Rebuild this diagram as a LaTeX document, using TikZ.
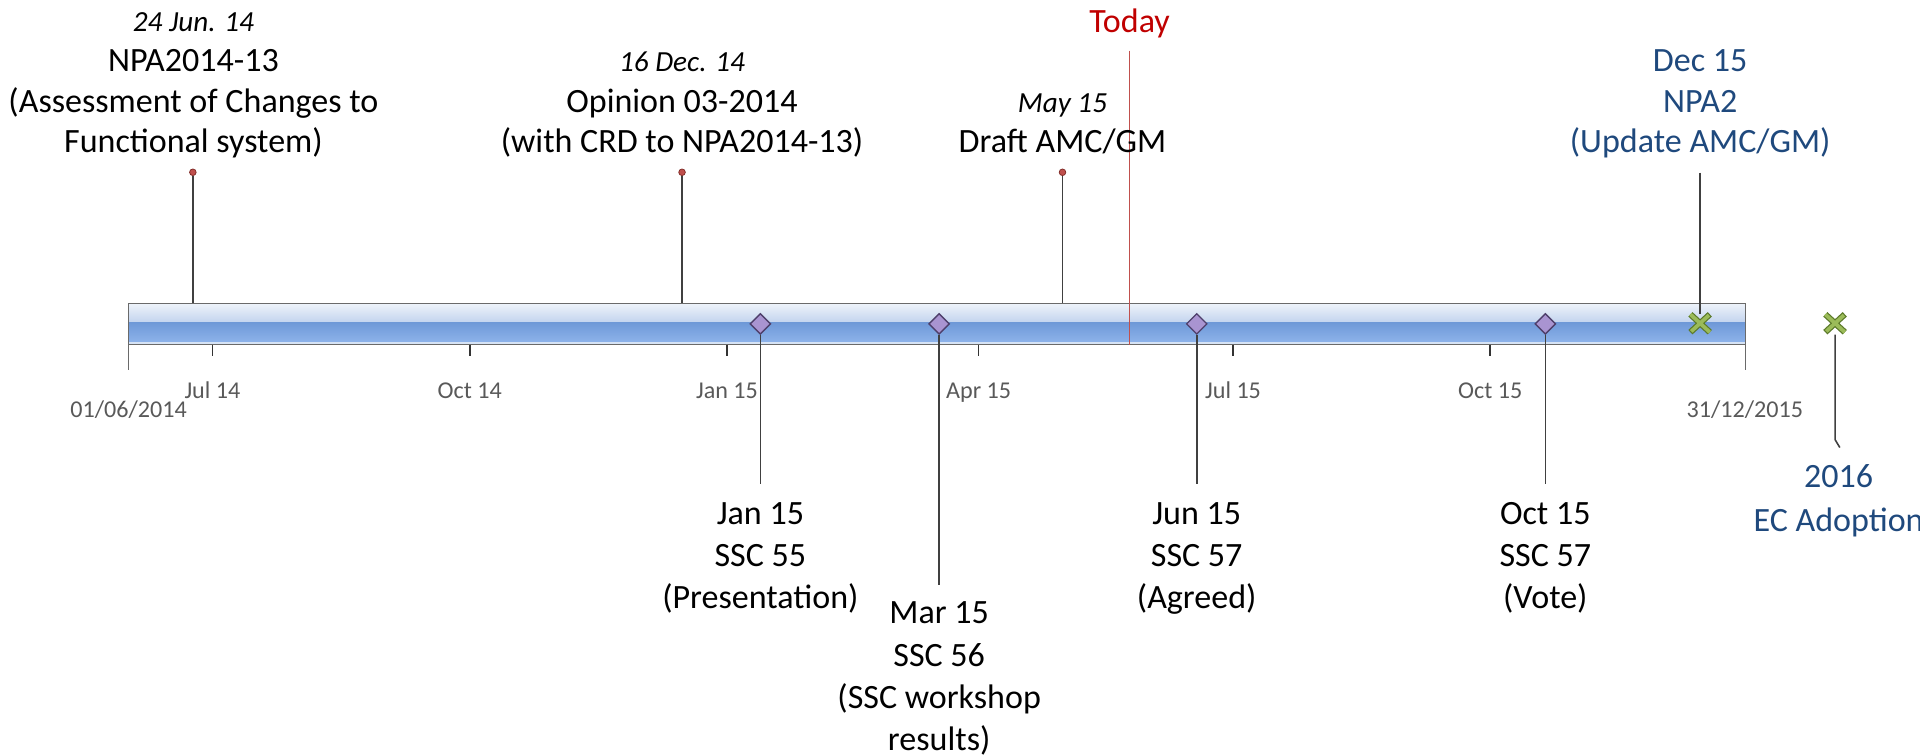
\documentclass[tikz,border=0pt]{standalone}
\usepackage{fontspec}
\setmainfont{Carlito}
\usetikzlibrary{shapes.geometric}

\definecolor{stemgray}{HTML}{404040}
\definecolor{tickgray}{HTML}{595959}
\definecolor{barline}{HTML}{6A6A6A}
\definecolor{barhiA}{HTML}{EEF3FA}
\definecolor{barhiB}{HTML}{C2D3EE}
\definecolor{barloA}{HTML}{6F99D8}
\definecolor{barloB}{HTML}{8DB3EA}
\definecolor{barrim}{HTML}{D6E3F5}
\definecolor{dotfill}{HTML}{C0504D}
\definecolor{dotedge}{HTML}{7F2A26}
\definecolor{msfill}{HTML}{A994D1}
\definecolor{msedge}{HTML}{4E3F6B}
\definecolor{crossfill}{HTML}{9BBB59}
\definecolor{crossedge}{HTML}{5C7A2A}
\definecolor{todayred}{HTML}{C00000}
\definecolor{todayrule}{HTML}{C0504D}
\definecolor{plannedblue}{HTML}{1F497D}

% italic date line above an event
\newcommand\evdate[1]{{\itshape\fontsize{23.8}{33}\selectfont #1}}
% centred multi-line label whose baseline is its first line
\newcommand\evlines[1]{\begin{tabular}[t]{@{}c@{}}#1\end{tabular}}
% green cross marker drawn over an invisible box node
\newcommand\drawcross[1]{%
  \draw[line width=5pt, crossedge] (#1.north west) -- (#1.south east)
                                    (#1.north east) -- (#1.south west);
  \draw[line width=3pt, crossfill, shorten <=1pt, shorten >=1pt]
        (#1.north west) -- (#1.south east)
        (#1.north east) -- (#1.south west);}

\begin{document}
\begin{tikzpicture}[x=1pt,y=-1pt,
  toptext/.style={anchor=base, inner sep=0pt, font=\fontsize{27.8}{33}\selectfont},
  bottext/.style={anchor=base, inner sep=0pt, font=\fontsize{27.8}{34.5}\selectfont},
  ticktext/.style={anchor=base, inner sep=0pt, text=tickgray, font=\fontsize{19.7}{23}\selectfont},
  stem/.style={draw=stemgray, line width=1.3pt},
  tickmark/.style={draw=black!80, line width=1.3pt},
  reddot/.style={circle, fill=dotfill, draw=dotedge, line width=0.6pt, minimum size=5.4pt, inner sep=0pt},
  milestone/.style={diamond, fill=msfill, draw=msedge, line width=1.1pt, minimum width=17pt, minimum height=17pt, inner sep=0pt},
  crossbox/.style={rectangle, minimum width=15.5pt, minimum height=14.2pt, inner sep=0pt},
]
\useasboundingbox (0,0) rectangle (1568,617);

% ---- time bar ----
\node[minimum width=1320pt, minimum height=33.3pt, inner sep=0pt, anchor=north west] (bar) at (105,247.7) {};
\shade[top color=barhiA, bottom color=barhiB] (bar.north west) rectangle ([yshift=1pt]bar.east);
\shade[top color=barloA, bottom color=barloB] ([yshift=1pt]bar.west) rectangle ([yshift=2pt]bar.south east);
\fill[barrim] ([yshift=2pt]bar.south west) rectangle (bar.south east);
\draw[barline, line width=1.3pt] (bar.north west) rectangle (bar.south east);
\draw[barline, line width=1.3pt] (bar.south west) -- ++(0,20.5);
\draw[barline, line width=1.3pt] (bar.south east) -- ++(0,20.5);

% month ticks and labels
\foreach \x in {173.5,383.6,593.7,799.2,1007,1217}
  \draw[tickmark] (\x,281.5) -- (\x,290.5);
\node[ticktext] (ljul14) at (173.5,325.5) {Jul 14};
\node[ticktext] (loct14) at (383.6,325.5) {Oct 14};
\node[ticktext] (ljan15) at (593.7,325.5) {Jan 15};
\node[ticktext] (lapr15) at (799.2,325.5) {Apr 15};
\node[ticktext] (ljul15) at (1007,325.5) {Jul 15};
\node[ticktext] (loct15) at (1217,325.5) {Oct 15};
\node[ticktext] (lstart) at (105,341) {01/06/2014};
\node[ticktext] (lend) at (1425,341) {31/12/2015};

% ---- today marker ----
\node[toptext, text=todayred] (today) at (922.5,26.5) {Today};
\coordinate (todaytop) at (922.5,41.4);
\draw[todayrule, line width=1.2pt] (todaytop) -- (todaytop |- bar.south);

% ---- events above the bar ----
\node[reddot] (d1) at (157.5,140.7) {};
\node[reddot] (d2) at (557,140.7) {};
\node[reddot] (d3) at (867.7,140.7) {};
\coordinate (d4) at (1388.4,141);
\draw[stem] (d1) -- (d1 |- bar.north);
\draw[stem] (d2) -- (d2 |- bar.north);
\draw[stem] (d3) -- (d3 |- bar.north);

\node[toptext] (ev1) at (158,25.5) {\evlines{\evdate{24 Jun. 14}\\NPA2014-13\\(Assessment of Changes to\\Functional system)}};
\node[toptext] (ev2) at (557,58.5) {\evlines{\evdate{16 Dec. 14}\\Opinion 03-2014\\(with CRD to NPA2014-13)}};
\node[toptext] (ev3) at (867.7,91.5) {\evlines{\evdate{May 15}\\Draft AMC/GM}};
\node[toptext, text=plannedblue] (ev4) at (1388.5,58.5) {\evlines{Dec 15\\NPA2\\(Update AMC/GM)}};

% ---- milestones below the bar ----
\node[milestone] (m1) at (621,264.5) {};
\node[milestone] (m2) at (767,264.5) {};
\node[milestone] (m3) at (977.3,264.5) {};
\node[milestone] (m4) at (1262,264.5) {};
\coordinate (e1) at (621,395);
\coordinate (e2) at (767,478);
\coordinate (e3) at (977.3,395);
\coordinate (e4) at (1262,395);
\draw[stem] (m1) -- (e1);
\draw[stem] (m2) -- (e2);
\draw[stem] (m3) -- (e3);
\draw[stem] (m4) -- (e4);

\node[bottext] (b1) at (621,428) {\evlines{Jan 15\\SSC 55\\(Presentation)}};
\node[bottext] (b2) at (767,509.5) {\evlines{Mar 15\\SSC 56\\(SSC workshop\\results)}};
\node[bottext] (b3) at (977.3,428) {\evlines{Jun 15\\SSC 57\\(Agreed)}};
\node[bottext] (b4) at (1262,428) {\evlines{Oct 15\\SSC 57\\(Vote)}};

% ---- planned items (crosses) ----
\node[crossbox] (x1) at (1388.4,264) {};
\node[crossbox] (x2) at (1498.6,264) {};
\coordinate (k1) at (1498.6,359);
\coordinate (k2) at (1502.5,365.5);
\draw[stem] (d4) -- (x1.north);
\draw[stem] ([yshift=-2pt]x2.south) -- (k1) -- (k2);
\drawcross{x1}
\drawcross{x2}

\node[toptext, text=plannedblue, font=\fontsize{27.8}{35.5}\selectfont] (ev5) at (1501.5,398.4) {\evlines{2016\\EC Adoption}};
\end{tikzpicture}
\end{document}
